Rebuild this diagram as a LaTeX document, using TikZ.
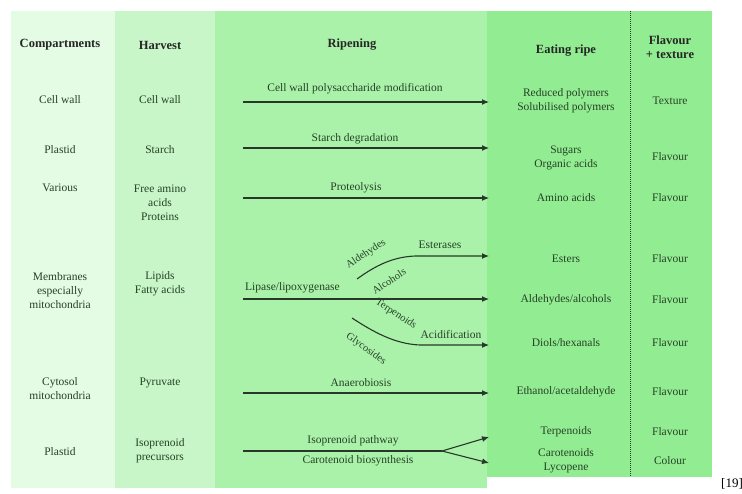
\documentclass[tikz,border=0pt]{standalone}
\usepackage{fontspec}
\setmainfont{Liberation Serif}
\usetikzlibrary{arrows.meta}
\definecolor{colA}{RGB}{228,251,228}
\definecolor{colB}{RGB}{200,246,200}
\definecolor{colC}{RGB}{170,242,170}
\definecolor{colD}{RGB}{146,236,146}
\definecolor{ink}{RGB}{38,66,38}
\definecolor{arr}{RGB}{40,56,40}
\tikzset{
  hdr/.style  ={font=\bfseries\fontsize{12.5}{14}\selectfont, align=center,
                text=black!85, inner sep=1pt},
  cell/.style ={font=\fontsize{11.5}{14}\selectfont, align=center,
                text=ink, inner sep=1pt},
  tilt/.style ={cell, font=\fontsize{10.5}{12}\selectfont, inner sep=0pt},
  fl/.style   ={-{Latex[length=7pt,width=6pt]}, line width=1.1pt, draw=arr},
  ln/.style   ={line width=1.1pt, draw=arr},
}

\begin{document}
\begin{tikzpicture}[x=1pt,y=-1pt]
  \useasboundingbox (0,0) rectangle (742,493);

  % column bands
  \fill[colA] (11,11) rectangle (115,488);
  \fill[colB] (115,11) rectangle (215,488);
  \fill[colC] (215,11) rectangle (487,488);
  \fill[colD] (487,11) rectangle (712,477);
  \draw[arr, densely dotted, line width=1pt] (630,11) -- (630,477);

  % headings
  \node[hdr] (hComp) at (60,45)  {Compartments};
  \node[hdr] (hHarv) at (160,45) {Harvest};
  \node[hdr] (hRip)  at (352,45) {Ripening};
  \node[hdr] (hEat)  at (566,51) {Eating ripe};
  \node[hdr] (hFlav) at (670,47) {Flavour\\+ texture};

  % compartments
  \node[cell] (cmp1) at (60,100) {Cell wall};
  \node[cell] (cmp2) at (60,150) {Plastid};
  \node[cell] (cmp3) at (60,188) {Various};
  \node[cell] (cmp4) at (60,291) {Membranes\\especially\\mitochondria};
  \node[cell] (cmp5) at (60,389) {Cytosol\\mitochondria};
  \node[cell] (cmp6) at (60,452) {Plastid};

  % harvest
  \node[cell] (hv1) at (160,100) {Cell wall};
  \node[cell] (hv2) at (160,150) {Starch};
  \node[cell] (hv3) at (160,203) {Free amino\\acids\\Proteins};
  \node[cell] (hv4) at (160,284) {Lipids\\Fatty acids};
  \node[cell] (hv5) at (160,383) {Pyruvate};
  \node[cell] (hv6) at (160,451) {Isoprenoid\\precursors};

  % eating ripe
  \node[cell] (er1) at (566,101) {Reduced polymers\\Solubilised polymers};
  \node[cell] (er2) at (566,158) {Sugars\\Organic acids};
  \node[cell] (er3) at (566,198) {Amino acids};
  \node[cell] (er4) at (566,259) {Esters};
  \node[cell] (er5) at (566,300) {Aldehydes/alcohols};
  \node[cell] (er6) at (566,343) {Diols/hexanals};
  \node[cell] (er7) at (566,392) {Ethanol/acetaldehyde};
  \node[cell] (er8) at (566,432) {Terpenoids};
  \node[cell] (er9) at (566,461) {Carotenoids\\Lycopene};

  % flavour + texture
  \node[cell] (fx1) at (670,101) {Texture};
  \node[cell] (fx2) at (670,157) {Flavour};
  \node[cell] (fx3) at (670,198) {Flavour};
  \node[cell] (fx4) at (670,259) {Flavour};
  \node[cell] (fx5) at (670,300) {Flavour};
  \node[cell] (fx6) at (670,343) {Flavour};
  \node[cell] (fx7) at (670,392) {Flavour};
  \node[cell] (fx8) at (670,432) {Flavour};
  \node[cell] (fx9) at (670,461) {Colour};

  % ripening pathways
  \coordinate (s1) at (243,102); \coordinate (e1) at (489,102);
  \coordinate (s2) at (243,148); \coordinate (e2) at (489,148);
  \coordinate (s3) at (243,198); \coordinate (e3) at (489,198);
  \coordinate (s4) at (243,299); \coordinate (e4) at (489,299);
  \coordinate (s5) at (243,393); \coordinate (e5) at (489,393);
  \coordinate (s6) at (243,451); \coordinate (k6) at (442,451);
  \coordinate (u1) at (357,279); \coordinate (eu) at (489,256);
  \coordinate (d1) at (352,318); \coordinate (ed) at (489,345);
  \coordinate (et) at (489,437); \coordinate (ec) at (489,463);

  \draw[fl] (s1) -- (e1);
  \draw[fl] (s2) -- (e2);
  \draw[fl] (s3) -- (e3);
  \draw[fl] (s4) -- (e4);
  \draw[fl] (s5) -- (e5);
  \draw[ln] (s6) -- (k6);
  \draw[fl] (k6) -- (et);
  \draw[fl] (k6) -- (ec);
  \draw[fl] (u1) .. controls (375,266) and (392,257) .. (415,256) -- (eu);
  \draw[fl] (d1) .. controls (372,331) and (394,344) .. (420,345) -- (ed);

  \node[cell] (p1) at (355,89)  {Cell wall polysaccharide modification};
  \node[cell] (p2) at (355,139) {Starch degradation};
  \node[cell] (p3) at (356,188) {Proteolysis};
  \node[cell, anchor=west] (p4) at (244,288) {Lipase/lipoxygenase};
  \node[cell] (p5) at (361,383) {Anaerobiosis};
  \node[cell] (p6) at (353,441) {Isoprenoid pathway};
  \node[cell] (p7) at (358,461) {Carotenoid biosynthesis};
  \node[cell] (p8) at (440,245) {Esterases};
  \node[cell] (p9) at (451,335) {Acidification};

  % side branches off the lipid route
  \node[tilt, rotate=33]  (ald) at (366,254) {Aldehydes};
  \node[tilt, rotate=33]  (alc) at (389,281) {Alcohols};
  \node[tilt, rotate=-33] (ter) at (396,314) {Terpenoids};
  \node[tilt, rotate=-36] (gly) at (366,349) {Glycosides};

  \node[font=\fontsize{13}{15}\selectfont] (ref) at (732,484) {[19]};
\end{tikzpicture}
\end{document}
